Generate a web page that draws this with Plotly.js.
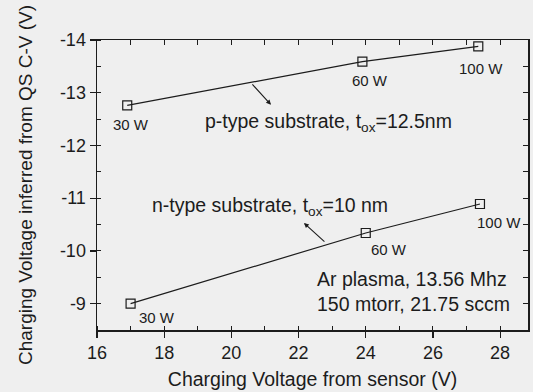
<!DOCTYPE html>
<html><head><meta charset="utf-8">
<script src="https://cdn.plot.ly/plotly-3.0.1.min.js"></script>
<style>html,body{margin:0;padding:0;background:#efefef}</style>
</head><body><div id="chart" style="width:533px;height:392px"></div>
<script>
// ---- data ----
const powerLabels = ['30 W', '60 W', '100 W'];
const pSensorV = [16.9, 23.9, 27.35];
const pQSCV = [-12.76, -13.59, -13.88];
const nSensorV = [17.0, 24.0, 27.4];
const nQSCV = [-9.0, -10.34, -10.89];
const xTickVals = [16, 18, 20, 22, 24, 26, 28];
const xTickText = ['16', '18', '20', '22', '24', '26', '28'];
const yTickVals = [-14, -13, -12, -11, -10, -9];
const yTickText = ['-14', '-13', '-12', '-11', '-10', '-9'];
const pSeriesLabel = 'p-type substrate, t<sub>ox</sub>=12.5nm';
const nSeriesLabel = 'n-type substrate, t<sub>ox</sub>=10 nm';
const conditionLines = ['Ar plasma, 13.56 Mhz', '150 mtorr, 21.75 sccm'];
const xTitle = 'Charging Voltage from sensor (V)';
const yTitle = 'Charging Voltage inferred from QS C-V (V)';

// ---- styles ----
const FONT = 'Liberation Sans, Arial, sans-serif';
const INK = '#1c1c1c';
const BG = '#efefef';
const xRange = [16, 28.83];
const yRange = [-8.5, -14.0];

const lineStyle = {color: INK, width: 1.2};
const markerStyle = {symbol: 'square-open', size: 9, color: INK, line: {width: 1.2, color: INK}};

const traces = [
  {x: pSensorV, y: pQSCV, mode: 'lines+markers', line: lineStyle, marker: markerStyle, showlegend: false, hoverinfo: 'none'},
  {x: nSensorV, y: nQSCV, mode: 'lines+markers', line: lineStyle, marker: markerStyle, showlegend: false, hoverinfo: 'none'},
  {x: [], y: [], xaxis: 'x2', yaxis: 'y2', showlegend: false, hoverinfo: 'none'}
];

const pOffsets = [[4, 19], [8, 19], [3, 22]];
const nOffsets = [[26, 14], [23, 17], [19, 19]];
const annotations = [];
powerLabels.forEach((lab, i) => {
  annotations.push({x: pSensorV[i], y: pQSCV[i], xref: 'x', yref: 'y', text: lab, showarrow: false,
    xshift: pOffsets[i][0], yshift: -pOffsets[i][1], font: {family: FONT, size: 15, color: INK}});
  annotations.push({x: nSensorV[i], y: nQSCV[i], xref: 'x', yref: 'y', text: lab, showarrow: false,
    xshift: nOffsets[i][0], yshift: -nOffsets[i][1], font: {family: FONT, size: 15, color: INK}});
});
annotations.push({x: 22.9, y: -12.43, xref: 'x', yref: 'y', text: pSeriesLabel, showarrow: false,
  font: {family: FONT, size: 19.5, color: INK}});
annotations.push({x: 21.15, y: -10.84, xref: 'x', yref: 'y', text: nSeriesLabel, showarrow: false,
  font: {family: FONT, size: 19.5, color: INK}});
annotations.push({x: 22.5, y: -9.47, xref: 'x', yref: 'y', text: conditionLines[0], showarrow: false, xanchor: 'left',
  font: {family: FONT, size: 19.5, color: INK}});
annotations.push({x: 22.5, y: -9.0, xref: 'x', yref: 'y', text: conditionLines[1], showarrow: false, xanchor: 'left',
  font: {family: FONT, size: 19.5, color: INK}});
// pointer arrows (head near label, tail on curve)
annotations.push({x: 21.18, y: -12.77, xref: 'x', yref: 'y', text: '', showarrow: true, ax: -20, ay: -22,
  arrowhead: 2, arrowsize: 0.9, arrowwidth: 1.1, arrowcolor: INK});
annotations.push({x: 22.16, y: -10.53, xref: 'x', yref: 'y', text: '', showarrow: true, ax: 22, ay: 20,
  arrowhead: 2, arrowsize: 0.9, arrowwidth: 1.1, arrowcolor: INK});

const layout = {
  width: 533, height: 392,
  margin: {l: 97, r: 5, t: 40, b: 62},
  paper_bgcolor: BG, plot_bgcolor: BG,
  font: {family: FONT, color: INK},
  xaxis: {
    range: xRange, tickmode: 'array', tickvals: xTickVals, ticktext: xTickText,
    ticks: 'outside', ticklen: 6, tickwidth: 1.2, tickcolor: INK,
    showline: true, linecolor: INK, linewidth: 1.5, showgrid: false, zeroline: false,
    tickfont: {family: FONT, size: 18, color: INK},
    minor: {dtick: 1, ticks: 'inside', ticklen: 4, tickwidth: 1, tickcolor: INK, showgrid: false},
    title: {text: xTitle, font: {family: FONT, size: 19.5, color: INK}, standoff: 10}
  },
  yaxis: {
    range: yRange, tickmode: 'array', tickvals: yTickVals, ticktext: yTickText,
    ticks: 'outside', ticklen: 6, tickwidth: 1.2, tickcolor: INK,
    showline: true, linecolor: INK, linewidth: 1.5, showgrid: false, zeroline: false,
    tickfont: {family: FONT, size: 18, color: INK},
    minor: {dtick: 0.5, ticks: 'inside', ticklen: 4, tickwidth: 1, tickcolor: INK, showgrid: false},
    title: {text: yTitle, font: {family: FONT, size: 19, color: INK}, standoff: 22}
  },
  xaxis2: {
    overlaying: 'x', side: 'top', anchor: 'y2', range: xRange, dtick: 1, tick0: 16,
    ticks: 'inside', ticklen: 5, tickwidth: 1, tickcolor: INK, showticklabels: false,
    showline: true, linecolor: INK, linewidth: 1.5, showgrid: false, zeroline: false
  },
  yaxis2: {
    overlaying: 'y', side: 'right', anchor: 'x2', range: yRange, dtick: 0.5, tick0: -14,
    ticks: 'inside', ticklen: 5, tickwidth: 1, tickcolor: INK, showticklabels: false,
    showline: true, linecolor: INK, linewidth: 1.5, showgrid: false, zeroline: false
  },
  annotations: annotations
};

Plotly.newPlot('chart', traces, layout, {displayModeBar: false, staticPlot: true});
</script></body></html>
